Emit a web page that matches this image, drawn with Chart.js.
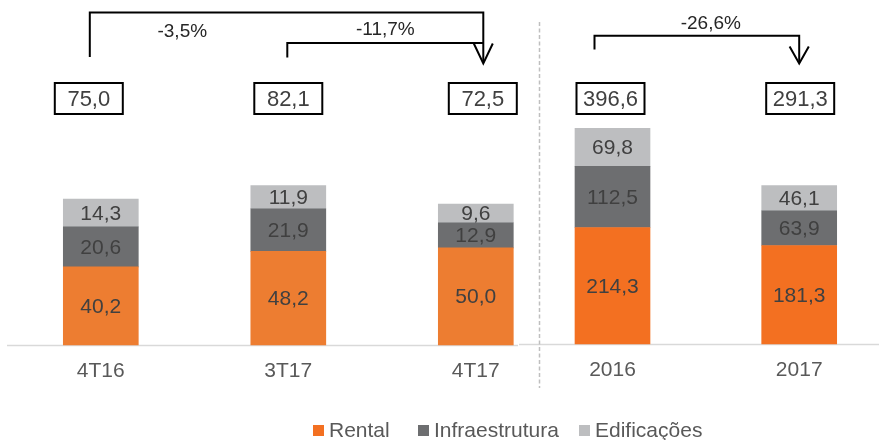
<!DOCTYPE html>
<html><head><meta charset="utf-8">
<script src="https://cdn.jsdelivr.net/npm/chart.js@4.4.0/dist/chart.umd.min.js"></script>
<style>
html,body{margin:0;padding:0;background:#fff;}
#wrap{position:relative;width:879px;height:440px;overflow:hidden;font-family:"Liberation Sans",Arial,sans-serif;}
#wrap canvas{position:absolute;left:0;top:0;}
#legend{position:absolute;left:0;top:418px;width:879px;height:24px;font-size:21px;color:#595959;line-height:24px;white-space:nowrap;}
.item{position:absolute;top:0;display:flex;align-items:center;}
.sw{width:11px;height:11px;margin-right:5px;}
</style></head>
<body><div id="wrap"><canvas id="cq" width="879" height="440"></canvas><canvas id="ca" width="879" height="440"></canvas><div id="legend"></div></div>
<script>
// ---- data ----
const seriesNames = ['Rental', 'Infraestrutura', 'Edificações'];
const quarterLabels = ['4T16', '3T17', '4T17'];
const quarterRental = [40.2, 48.2, 50.0];
const quarterInfra = [20.6, 21.9, 12.9];
const quarterEdif = [14.3, 11.9, 9.6];
const quarterTotals = [75.0, 82.1, 72.5];
const quarterChanges = ['-3,5%', '-11,7%'];
const yearLabels = ['2016', '2017'];
const yearRental = [214.3, 181.3];
const yearInfra = [112.5, 63.9];
const yearEdif = [69.8, 46.1];
const yearTotals = [396.6, 291.3];
const yearChanges = ['-26,6%'];

// ---- style ----
const FONT = '"Liberation Sans", Arial, sans-serif';
const quarterColors = ['#ED7D31', '#6D6E70', '#BDBEC0'];
const yearColors = ['#F37021', '#6D6E70', '#BDBEC0'];
const legendColors = ['#F37021', '#6D6E70', '#BDBEC0'];
const legendLeft = [313, 418, 579];
const fmt = v => v.toFixed(1).replace('.', ',');

function drawValueLabels(chart) {
  const ctx = chart.ctx;
  ctx.save();
  ctx.font = '21px ' + FONT;
  ctx.fillStyle = '#404040';
  ctx.textAlign = 'center';
  ctx.textBaseline = 'middle';
  chart.data.datasets.forEach((ds, di) => {
    const meta = chart.getDatasetMeta(di);
    meta.data.forEach((el, i) => {
      const v = ds.data[i];
      if (v == null) return;
      ctx.fillText(fmt(v), el.x, (el.y + el.base) / 2 + 1);
    });
  });
  ctx.restore();
}

function drawTotals(chart, totals, nudges) {
  const ctx = chart.ctx;
  const xs = chart.scales.x;
  ctx.save();
  totals.forEach((t, i) => {
    const cx = xs.getPixelForValue(i) + nudges[i];
    const w = 68, h = 31, cy = 98.5;
    ctx.fillStyle = '#fff';
    ctx.fillRect(cx - w / 2, cy - h / 2, w, h);
    ctx.lineWidth = 2;
    ctx.strokeStyle = '#000';
    ctx.strokeRect(cx - w / 2, cy - h / 2, w, h);
    ctx.font = '22px ' + FONT;
    ctx.fillStyle = '#404040';
    ctx.textAlign = 'center';
    ctx.textBaseline = 'middle';
    ctx.fillText(fmt(t), cx, cy + 1);
  });
  ctx.restore();
}

function drawArrows(chart, arrows) {
  const ctx = chart.ctx;
  const xs = chart.scales.x;
  ctx.save();
  ctx.strokeStyle = '#000';
  ctx.lineWidth = 2;
  ctx.lineJoin = 'miter';
  arrows.forEach(a => {
    const x1 = xs.getPixelForValue(a.from) + a.dx1;
    const x2 = xs.getPixelForValue(a.to) + a.dx2;
    ctx.beginPath();
    ctx.moveTo(x1, a.startY);
    ctx.lineTo(x1, a.topY);
    ctx.lineTo(x2, a.topY);
    if (a.head) ctx.lineTo(x2, a.tipY - 1);
    ctx.stroke();
    if (a.head) {
      ctx.beginPath();
      ctx.moveTo(x2 - a.hw, a.tipY - a.hh);
      ctx.lineTo(x2, a.tipY);
      ctx.lineTo(x2 + a.hw, a.tipY - a.hh);
      ctx.stroke();
    }
    ctx.font = '19px ' + FONT;
    ctx.fillStyle = '#262626';
    ctx.textAlign = 'center';
    ctx.textBaseline = 'middle';
    ctx.fillText(a.text, x1 + (x2 - x1) * a.frac, a.textY);
  });
  ctx.restore();
}

function axisLine(chart, x1, x2, dy) {
  const ctx = chart.ctx;
  const y = chart.scales.y.getPixelForValue(0) + dy;
  ctx.save();
  ctx.strokeStyle = '#D9D9D9';
  ctx.lineWidth = 1.5;
  ctx.beginPath();
  ctx.moveTo(x1, y);
  ctx.lineTo(x2, y);
  ctx.stroke();
  ctx.restore();
}

function makeChart(id, labels, sets, colors, yMax, pad, plugin) {
  return new Chart(document.getElementById(id), {
    type: 'bar',
    data: {
      labels: labels,
      datasets: sets.map((d, i) => ({
        label: seriesNames[i], data: d, backgroundColor: colors[i],
        borderWidth: 0, barThickness: 75, clip: false, stack: 's'
      }))
    },
    options: {
      responsive: false, animation: false, events: [],
      layout: { padding: pad },
      plugins: { legend: { display: false }, tooltip: { enabled: false } },
      scales: {
        x: {
          type: 'category', offset: false, stacked: true,
          grid: { display: false, drawTicks: false }, border: { display: false },
          ticks: { color: '#595959', font: { family: FONT, size: 21 }, padding: 14, maxRotation: 0, autoSkip: false }
        },
        y: { display: false, stacked: true, min: 0, max: yMax }
      }
    },
    plugins: [plugin]
  });
}

makeChart('cq', quarterLabels, [quarterRental, quarterInfra, quarterEdif], quarterColors, 100,
  { left: 100.8, right: 403.2, top: 150.6, bottom: 41.8 },
  {
    id: 'qdeco',
    beforeDatasetsDraw(chart) { axisLine(chart, 7, 518, 0.5); },
    afterDatasetsDraw(chart) {
      drawValueLabels(chart);
      drawTotals(chart, quarterTotals, [-12, 0, 7]);
      drawArrows(chart, [
        { from: 0, to: 2, dx1: -11, dx2: 7.5, startY: 57, topY: 12.5, tipY: 63.5, head: true, hw: 9.5, hh: 20, text: quarterChanges[0], frac: 0.235, textY: 32 },
        { from: 1, to: 2, dx1: -1, dx2: 7.5, startY: 57.5, topY: 43, tipY: 63.5, head: false, text: quarterChanges[1], frac: 0.5, textY: 29.5 }
      ]);
    }
  });

makeChart('ca', yearLabels, [yearRental, yearInfra, yearEdif], yearColors, 500,
  { left: 612.5, right: 79.8, top: 72.25, bottom: 42.8 },
  {
    id: 'adeco',
    beforeDatasetsDraw(chart) {
      axisLine(chart, 519, 879, 0.5);
      const ctx = chart.ctx;
      ctx.save();
      ctx.strokeStyle = '#BFBFBF';
      ctx.lineWidth = 1.5;
      ctx.setLineDash([4, 2.5]);
      ctx.beginPath();
      ctx.moveTo(539.5, 22);
      ctx.lineTo(539.5, 388);
      ctx.stroke();
      ctx.restore();
    },
    afterDatasetsDraw(chart) {
      drawValueLabels(chart);
      drawTotals(chart, yearTotals, [-2, 1]);
      drawArrows(chart, [
        { from: 0, to: 1, dx1: -18, dx2: 0, startY: 49.5, topY: 35.7, tipY: 63.5, head: true, hw: 9.6, hh: 17, text: yearChanges[0], frac: 0.568, textY: 24.2 }
      ]);
    }
  });

// legend
const lg = document.getElementById('legend');
seriesNames.forEach((n, i) => {
  const it = document.createElement('div');
  it.className = 'item';
  it.style.left = legendLeft[i] + 'px';
  const sw = document.createElement('span');
  sw.className = 'sw';
  sw.style.background = legendColors[i];
  const tx = document.createElement('span');
  tx.textContent = n;
  it.appendChild(sw); it.appendChild(tx);
  lg.appendChild(it);
});
</script>
</body></html>
